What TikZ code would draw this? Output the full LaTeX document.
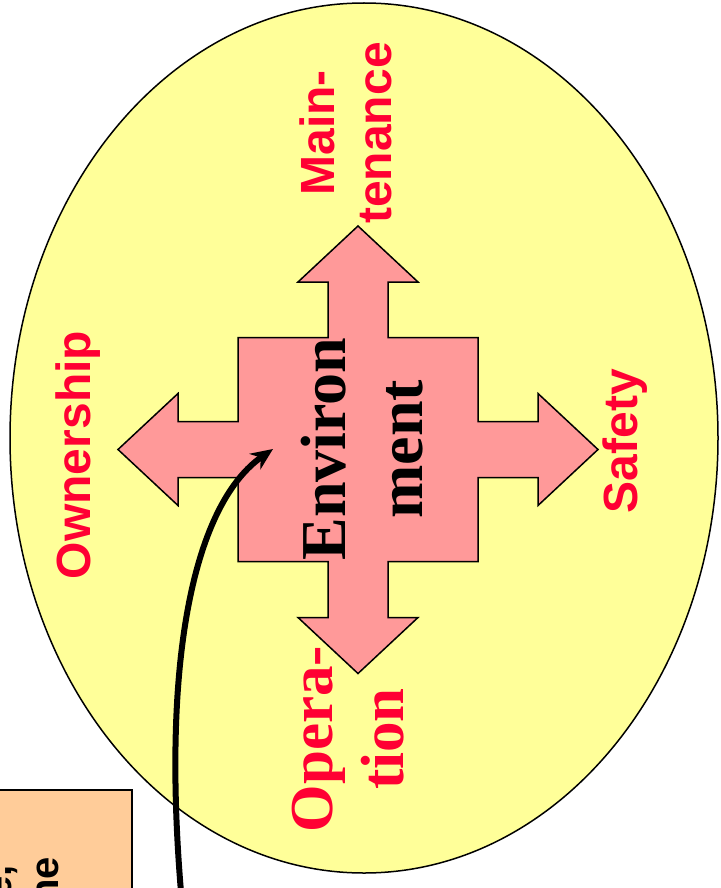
\documentclass[tikz,border=0pt]{standalone}
\usepackage{fontspec}
\newfontfamily\labelsans{Liberation Sans}
\newfontfamily\labelserif{Liberation Serif}
\usetikzlibrary{arrows.meta}

\definecolor{ovalyellow}{HTML}{FFFF99}
\definecolor{crosspink}{HTML}{FF9999}
\definecolor{labelred}{HTML}{FF0033}
\definecolor{notefill}{HTML}{FFCC99}

\tikzset{
  oval/.style={draw=black, line width=1.5pt, fill=ovalyellow},
  crossshape/.style={draw=black, line width=1.5pt, fill=crosspink, line join=miter},
  sanslabel/.style={text=labelred, rotate=90, inner sep=0pt, align=center,
    font=\labelsans\bfseries\fontsize{48}{56.7}\selectfont},
  seriflabel/.style={text=labelred, rotate=90, inner sep=0pt, align=center,
    font=\labelserif\bfseries\fontsize{61}{71}\selectfont},
  hubtext/.style={text=black, rotate=90, inner sep=0pt, align=center,
    font=\labelserif\bfseries\fontsize{64}{77.7}\selectfont},
  notebox/.style={draw=black, line width=2pt, fill=notefill},
  notetext/.style={text=black, rotate=90, inner sep=0pt,
    font=\labelsans\bfseries\fontsize{40}{46}\selectfont},
  pointer/.style={draw=black, line width=6pt,
    -{Stealth[length=22pt,width=19pt,inset=7pt]}}
}

\begin{document}
\begin{tikzpicture}[x=1pt,y=-1pt]
\useasboundingbox (0,0) rectangle (720,888);

% background oval
\path[oval] (364,438) ellipse [x radius=354, y radius=435];

% four-way arrow around the central square
\path[crossshape]
  (358,226) -- (418,282) -- (388,282) -- (388,337.5)
  -- (478,337.5) -- (478,421.5) -- (538,421.5) -- (538,393.5)
  -- (598,449.5) -- (538,505.5) -- (538,477.5) -- (478,477.5)
  -- (478,561.5) -- (388,561.5) -- (388,617.5) -- (418,617.5)
  -- (358,673.5) -- (298,617.5) -- (328,617.5) -- (328,561.5)
  -- (238,561.5) -- (238,477.5) -- (178,477.5) -- (178,505.5)
  -- (118,449.5) -- (178,393.5) -- (178,421.5) -- (238,421.5)
  -- (238,337.5) -- (328,337.5) -- (328,282) -- (298,282) -- cycle;

% central label
\node[hubtext] (hub) at (362,449) {Environ\\ment};

% labels around the arrow
\node[sanslabel] (maint) at (346,133) {Main-\\tenance};
\node[sanslabel, anchor=base] (owner) at (90,455) {Ownership};
\node[sanslabel, anchor=base] (safety) at (637,441) {Safety};
\node[seriflabel] (oper) at (348,739) {Opera-\\tion};

% note box in the lower left corner
\path[notebox] (-20,790) rectangle (131.7,910);
\node[notetext, anchor=base east] (noteA) at (12,865) {e,};
\node[notetext, anchor=base east] (noteB) at (58,857) {ne};

% curved pointer into the centre
\coordinate (pstart) at (181,892);
\coordinate (ptip) at (273,449);
\draw[pointer] (pstart) .. controls (160,640) and (200,500) .. (ptip);
\end{tikzpicture}
\end{document}
